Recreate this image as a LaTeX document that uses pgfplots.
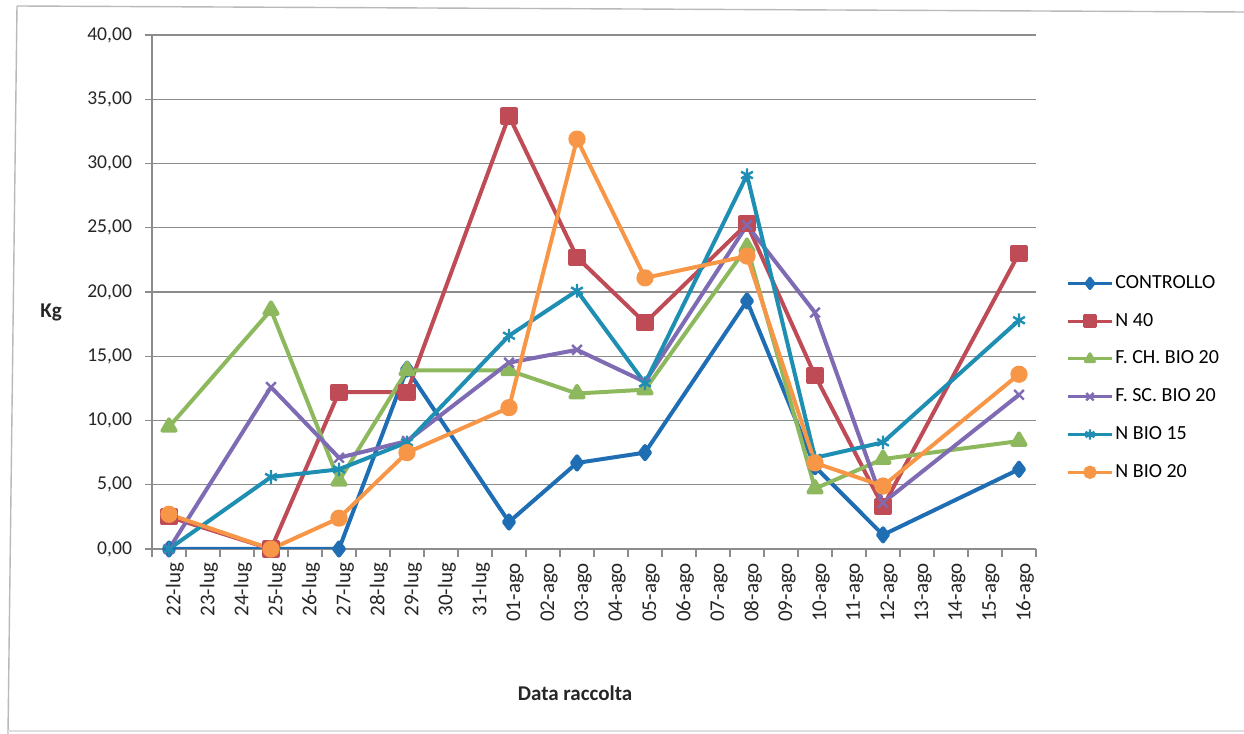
\documentclass[border=0pt]{standalone}
\usepackage{fontspec}
\setmainfont{Carlito}
\usepackage{pgfplots}
\pgfplotsset{compat=1.18}

\definecolor{cCtrl}{HTML}{1F6EB3}
\definecolor{cN40}{HTML}{BE4B55}
\definecolor{cFCH}{HTML}{8DB85E}
\definecolor{cFSC}{HTML}{7E6BB4}
\definecolor{cNB15}{HTML}{1E8FB3}
\definecolor{cNB20}{HTML}{F79646}
\definecolor{gridgray}{HTML}{8C8C8C}

\begin{document}
\begin{tikzpicture}
\useasboundingbox (0,0) rectangle (622pt,367pt);
% chart-area border
\draw[gray!55, line width=0.7pt] (8.5pt,364pt) -- (622pt,361pt);
\draw[gray!55, line width=0.7pt] (8.5pt,364pt) -- (4pt,0pt);
\draw[gray!25, line width=0.6pt] (4pt,1.5pt) -- (622pt,1.5pt);

\begin{axis}[
  at={(76pt,92.5pt)}, anchor=south west,
  scale only axis, width=442pt, height=257pt,
  xmin=-0.5, xmax=25.5, ymin=0, ymax=40,
  axis x line*=bottom, axis y line*=left,
  axis line style={gridgray, line width=0.6pt},
  every tick/.style={gridgray, line width=0.6pt},
  tick align=outside,
  xtick={0,...,25},
  major x tick style={draw=none},
  minor xtick={-0.5,0.5,...,25.5},
  minor tick length=4pt,
  xticklabels={22-lug,23-lug,24-lug,25-lug,26-lug,27-lug,28-lug,29-lug,30-lug,31-lug,
    01-ago,02-ago,03-ago,04-ago,05-ago,06-ago,07-ago,08-ago,09-ago,10-ago,
    11-ago,12-ago,13-ago,14-ago,15-ago,16-ago},
  xticklabel style={rotate=90, anchor=east, font=\fontsize{10.5}{12}\selectfont, text=black!85, yshift=-3pt},
  ytick={0,5,...,40},
  major tick length=3.5pt,
  ymajorgrids, grid style={gridgray, line width=0.6pt},
  yticklabel style={font=\fontsize{9.8}{11}\selectfont, text=black!85, xshift=-3pt},
  /pgf/number format/.cd, fixed, fixed zerofill, precision=2, use comma, assume math mode=true,
  /pgfplots/.cd,
  every axis plot/.append style={line width=2pt, line join=round},
  legend style={at={(1.034,0.537)}, anchor=north west, draw=none, fill=none,
    font=\fontsize{10}{12}\selectfont, row sep=8.9pt, inner sep=0pt,
    nodes={inner sep=1pt}},
  legend cell align=left,
  legend image code/.code={
    \draw[mark repeat=2, mark phase=2, line width=1.5pt, mark size=2.6pt] plot coordinates {(0pt,0pt) (11pt,0pt) (22pt,0pt)};},
]
\addplot[cCtrl, mark=diamond*, mark size=3.3pt, mark options={solid, fill=cCtrl}] coordinates {
  (0,0) (3,0) (5,0) (7,14.0) (10,2.1) (12,6.7) (14,7.5) (17,19.3) (19,6.4) (21,1.1) (25,6.2)};
\addlegendentry{CONTROLLO}
\addplot[cN40, mark=square*, mark size=3.3pt, mark options={solid, fill=cN40}] coordinates {
  (0,2.5) (3,0) (5,12.2) (7,12.2) (10,33.7) (12,22.7) (14,17.6) (17,25.3) (19,13.5) (21,3.3) (25,23.0)};
\addlegendentry{N 40}
\addplot[cFCH, mark=triangle*, mark size=3.8pt, mark options={solid, fill=cFCH}] coordinates {
  (0,9.5) (3,18.6) (5,5.3) (7,13.9) (10,13.9) (12,12.1) (14,12.4) (17,23.5) (19,4.7) (21,7.0) (25,8.4)};
\addlegendentry{F. CH. BIO  20}
\addplot[cFSC, mark=x, mark size=3.4pt, mark options={solid, line width=1.2pt}] coordinates {
  (0,0) (3,12.6) (5,7.1) (7,8.4) (10,14.5) (12,15.5) (14,13.0) (17,25.2) (19,18.4) (21,3.6) (25,12.0)};
\addlegendentry{F. SC. BIO  20}
\addplot[cNB15, mark=asterisk, mark size=3.4pt, mark options={solid, line width=1.2pt}] coordinates {
  (0,0) (3,5.6) (5,6.2) (7,8.3) (10,16.6) (12,20.1) (14,12.9) (17,29.1) (19,7.1) (21,8.3) (25,17.8)};
\addlegendentry{N BIO 15}
\addplot[cNB20, mark=*, mark size=3.3pt, mark options={solid, fill=cNB20}] coordinates {
  (0,2.7) (3,0) (5,2.4) (7,7.5) (10,11.0) (12,31.9) (14,21.1) (17,22.8) (19,6.7) (21,4.9) (25,13.6)};
\addlegendentry{N BIO 20}
\end{axis}

\node[font=\fontsize{10.5}{12}\selectfont\bfseries, text=black!85] at (25.5pt,211pt) {Kg};
\node[font=\fontsize{10.5}{12}\selectfont\bfseries, text=black!85] at (287.5pt,20.5pt) {Data raccolta};
\end{tikzpicture}
\end{document}
